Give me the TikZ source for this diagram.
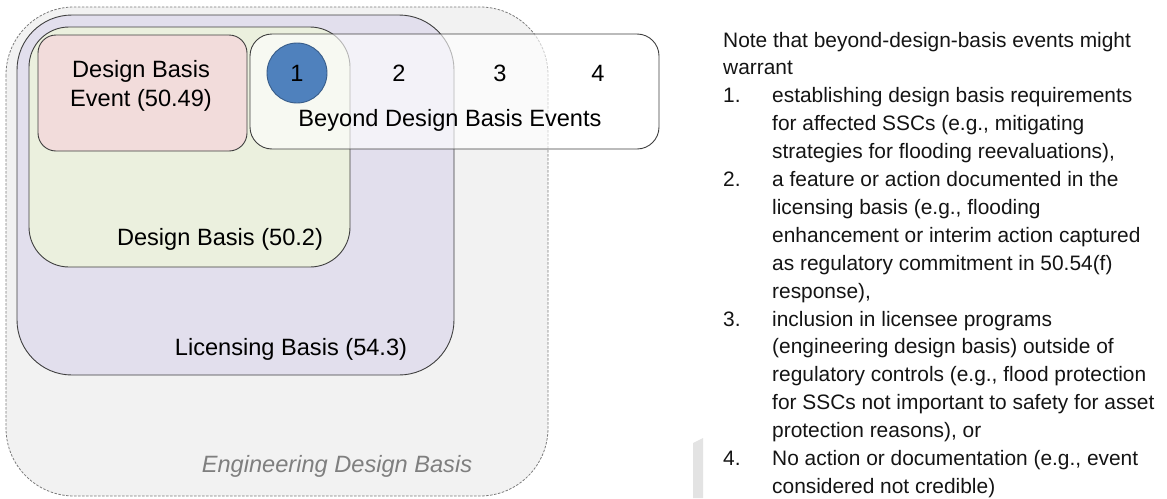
\documentclass[tikz,border=0pt]{standalone}
\usepackage{fontspec}
\setmainfont{Liberation Sans}
\definecolor{edbfill}{HTML}{F2F2F2}
\definecolor{edbline}{HTML}{7A7A7A}
\definecolor{lbfill}{HTML}{E2DFED}
\definecolor{dbfill}{HTML}{EBF0DE}
\definecolor{dbefill}{HTML}{F2DCDB}
\definecolor{circfill}{HTML}{4F81BD}
\definecolor{circline}{HTML}{385D8A}
\definecolor{boxline}{HTML}{3F3F3F}
\definecolor{barfill}{HTML}{E3E3E3}
\definecolor{edbtext}{HTML}{7F7F7F}

\tikzset{
  region/.style={draw=boxline, line width=0.9pt},
  biglabel/.style={font=\fontsize{23.6}{28}\selectfont, inner sep=0pt, anchor=base},
  noteline/.style={font=\fontsize{20.9}{27.9}\selectfont, inner sep=0pt, anchor=base west, text=black!92},
}

\begin{document}
\begin{tikzpicture}[x=1pt,y=-1pt]
\useasboundingbox (0,0) rectangle (1167,498);

% nested basis regions
\draw[fill=edbfill, draw=edbline, dash pattern=on 2.5pt off 1.5pt, line width=0.8pt,
      rounded corners=68pt] (6,7) rectangle (548,496);
\draw[region, fill=lbfill, rounded corners=55pt] (17,15) rectangle (454,375);
\draw[region, fill=dbfill, rounded corners=40pt] (29,27) rectangle (350,267);
\draw[region, fill=dbefill, rounded corners=18pt] (38,35) rectangle (247,151);

% beyond design basis events band (translucent)
\draw[region, fill=white, fill opacity=0.62, rounded corners=22pt] (250,34) rectangle (659,149);
\node[circle, fill=circfill, draw=circline, line width=0.9pt, minimum size=60pt, inner sep=0pt]
  (c1) at (297,73) {};

% region labels
\node[biglabel] (dbe1) at (141,77) {Design Basis};
\node[biglabel] (dbe2) at (141,106) {Event (50.49)};
\node[biglabel] (db) at (220,245) {Design Basis (50.2)};
\node[biglabel] (lb) at (291,355) {Licensing Basis (54.3)};
\node[biglabel, text=edbtext, font=\fontsize{23.6}{28}\selectfont\itshape] (edb) at (337,472)
  {Engineering Design Basis};

\node[biglabel] (b1) at (297,81) {1};
\node[biglabel] (b2) at (399,81) {2};
\node[biglabel] (b3) at (500,81) {3};
\node[biglabel] (b4) at (598,81) {4};
\node[biglabel] (bdbe) at (450,126) {Beyond Design Basis Events};

% side marker
\fill[barfill] (693,443) -- (703,438) -- (703,498) -- (693,498) -- cycle;

% note text
\node[noteline] (n0)  at (723,47.0)  {Note that beyond-design-basis events might};
\node[noteline] (n1)  at (723,74.9)  {warrant};
\node[noteline] (i1)  at (723,102.8) {1.};
\node[noteline] (n2)  at (772,102.8) {establishing design basis requirements};
\node[noteline] (n3)  at (772,130.7) {for affected SSCs (e.g., mitigating};
\node[noteline] (n4)  at (772,158.6) {strategies for flooding reevaluations),};
\node[noteline] (i2)  at (723,186.5) {2.};
\node[noteline] (n5)  at (772,186.5) {a feature or action documented in the};
\node[noteline] (n6)  at (772,214.4) {licensing basis (e.g., flooding};
\node[noteline] (n7)  at (772,242.3) {enhancement or interim action captured};
\node[noteline] (n8)  at (772,270.2) {as regulatory commitment in 50.54(f)};
\node[noteline] (n9)  at (772,298.1) {response),};
\node[noteline] (i3)  at (723,326.0) {3.};
\node[noteline] (n10) at (772,326.0) {inclusion in licensee programs};
\node[noteline] (n11) at (772,353.9) {(engineering design basis) outside of};
\node[noteline] (n12) at (772,381.8) {regulatory controls (e.g., flood protection};
\node[noteline] (n13) at (772,409.7) {for SSCs not important to safety for asset};
\node[noteline] (n14) at (772,437.6) {protection reasons), or};
\node[noteline] (i4)  at (723,465.5) {4.};
\node[noteline] (n15) at (772,465.5) {No action or documentation (e.g., event};
\node[noteline] (n16) at (772,493.4) {considered not credible)};
\end{tikzpicture}
\end{document}
